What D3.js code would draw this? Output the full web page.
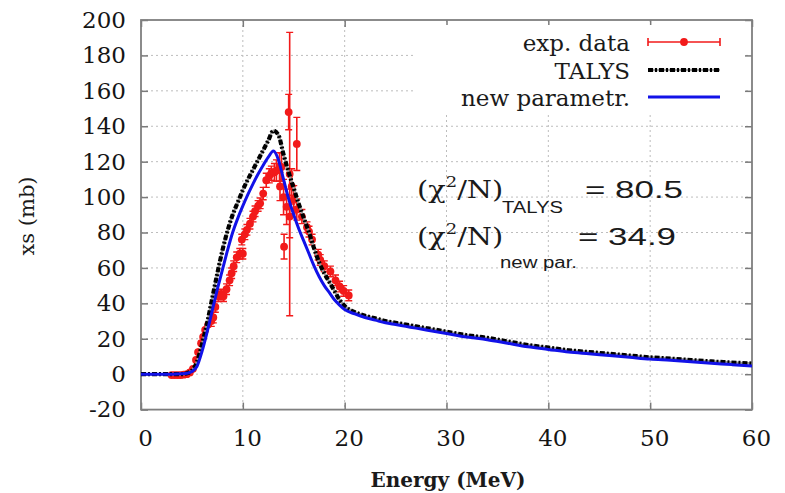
<!DOCTYPE html>
<html>
<head>
<meta charset="utf-8">
<script src="https://cdn.jsdelivr.net/npm/d3@7"></script>
<style>
  html, body { margin: 0; padding: 0; background: #fff; }
  svg { display: block; }
</style>
</head>
<body>
<svg id="chart" width="785" height="493"></svg>
<script>
// Energy axis (MeV) and cross-section axis (mb)
const xTicks = [0, 10, 20, 30, 40, 50, 60];
const yTicks = [-20, 0, 20, 40, 60, 80, 100, 120, 140, 160, 180, 200];

// Measured cross sections: energy, value, uncertainty
const expE   = [3.0, 3.3, 3.6, 3.9, 4.2, 4.5, 4.8, 5.1, 5.4, 5.6, 5.9, 6.1, 6.3, 6.6, 6.9, 7.1, 7.3, 7.6, 7.9, 8.1,
                8.4, 8.7, 8.9, 9.1, 9.4, 9.7, 10.0, 9.9, 10.2, 10.4, 10.7, 11.0, 11.2, 11.5, 11.7, 12.0, 12.3, 12.6, 12.8, 13.1,
                13.3, 13.6, 13.8, 13.65, 14.0, 14.05, 14.3, 14.5, 14.6, 14.6, 14.8, 15.0, 15.3, 15.3, 15.8, 16.3, 16.5, 16.8, 17.4, 17.6,
                18.0, 18.6, 19.1, 19.5, 19.9, 20.4];
const expV   = [-0.5, -0.5, -0.5, -0.5, -0.3, 0, 1, 3, 8, 12.5, 17.5, 21, 25, 28, 30, 32, 38, 44, 45, 44,
                48, 53, 57, 61, 66, 68, 68, 76, 79, 81.5, 85, 89, 92, 95, 96.5, 102, 109.5, 112, 113.5, 114,
                115, 117, 117, 106, 100, 72, 94.5, 148, 113, 89, 106, 98.5, 130, 93, 89, 83, 80.5, 76, 67.5, 64.5,
                61, 58, 53, 49.5, 47, 44.5];
const expErr = [0.5, 0.5, 0.5, 0.5, 0.5, 0.5, 0.8, 1, 1.5, 2, 2, 2, 2.5, 2.5, 3, 3, 3, 3, 3, 3,
                3, 3, 3, 3, 3, 3, 3, 3, 3, 3, 3, 3, 3, 3, 3, 3.5, 4, 4, 4, 5,
                6, 8, 8, 8, 10, 7, 10, 10, 80, 12, 10, 8, 15, 6, 4, 3, 3, 3, 3, 3,
                3, 3, 3, 3, 3, 3];

// TALYS calculation
const talysE = [0, 1, 2, 3, 4, 4.5, 5, 5.5, 6, 6.5, 7, 7.5, 8, 8.5, 9, 9.5, 10, 10.5, 11, 11.5,
                12, 12.5, 13, 13.5, 14, 14.5, 15, 15.5, 16, 16.5, 17, 17.5, 18, 18.5, 19, 19.5, 20, 21, 22, 23,
                24, 25, 26, 27, 28, 30, 32, 34, 36, 38, 40, 42, 44, 46, 48, 50, 52, 54, 56, 58, 60];
const talysV = [0, 0, 0, 0, 0, 0.5, 2, 7, 17, 29, 43, 57, 70, 81, 90, 97, 104, 110, 115.5, 121,
                126.5, 132, 137.5, 135, 124, 114, 105, 96, 88, 80, 71, 63, 57, 52, 47, 42, 38.5, 35, 33, 31.5,
                30, 29, 28, 27, 26, 24, 22, 20.5, 18.5, 16.5, 15, 13.5, 12.5, 11.5, 10.5, 9.5, 8.8, 8, 7.2, 6.6, 6];

// New parametrization
const newE = [0, 1, 2, 3, 4, 4.5, 5, 5.5, 6, 6.5, 7, 7.5, 8, 8.5, 9, 9.5, 10, 10.5, 11, 11.5,
              12, 12.5, 13, 13.5, 14, 14.5, 15, 15.5, 16, 16.5, 17, 17.5, 18, 18.5, 19, 19.5, 20, 21, 22, 23,
              24, 25, 26, 27, 28, 30, 32, 34, 36, 38, 40, 42, 44, 46, 48, 50, 52, 54, 56, 58, 60];
const newV = [0, 0, 0, 0, 0.2, 0.5, 1.5, 4.5, 13, 24, 36, 48, 59, 70, 80, 88, 95, 101.5, 107.5, 113,
              118, 122.5, 126, 121, 110, 99, 90, 82, 75, 68, 61, 55, 50, 46, 42, 39, 36.5, 34, 32, 30.5,
              29, 28, 27, 26, 25, 23, 21, 19.5, 17.5, 15.5, 14, 12.5, 11.5, 10.5, 9.5, 8.5, 7.8, 7, 6.2, 5.4, 4.6];

const legendLabels = ["exp. data", "TALYS", "new parametr."];
const chiValues = ["80.5", "34.9"];
const chiSubs = ["TALYS", "new par."];

const svg = d3.select("#chart");
const pLeft = 141, pRight = 752, pTop = 20, pBottom = 409.6;
const x = d3.scaleLinear().domain([0, 60]).range([pLeft, pRight]);
const y = d3.scaleLinear().domain([-20, 200]).range([pBottom, pTop]);

const serif = "'DejaVu Serif', serif";
const sans = "'Liberation Sans', Arial, sans-serif";
const red = "#f21a1a", blue = "#1212e8";

// grid
const grid = svg.append("g").attr("stroke", "#bdbdbd").attr("stroke-width", 1).attr("stroke-dasharray", "2,3");
grid.selectAll("line.h").data(yTicks.filter(v => v > -20 && v < 200)).join("line").attr("class", "h")
  .attr("x1", pLeft).attr("x2", pRight).attr("y1", d => y(d)).attr("y2", d => y(d));
grid.selectAll("line.v").data(xTicks.filter(v => v > 0 && v < 60)).join("line").attr("class", "v")
  .attr("x1", d => x(d)).attr("x2", d => x(d)).attr("y1", pTop).attr("y2", pBottom);

// axes with inward ticks
const tickColor = "#7a7a7a";
const plain = d => String(d);
function styleAxis(g) {
  g.select(".domain").remove();
  g.selectAll(".tick line").attr("stroke", tickColor).attr("stroke-width", 1.5);
  g.selectAll(".tick text").attr("fill", "#151515").attr("font-family", serif).attr("font-size", 23);
}
svg.append("g").attr("transform", `translate(${pLeft},0)`)
  .call(d3.axisLeft(y).tickValues(yTicks).tickFormat(plain).tickSize(-7).tickPadding(15))
  .call(styleAxis);
svg.append("g").attr("transform", `translate(${pRight},0)`)
  .call(d3.axisRight(y).tickValues(yTicks).tickSize(-7).tickFormat(""))
  .call(styleAxis);
svg.append("g").attr("transform", `translate(0,${pBottom})`)
  .call(d3.axisBottom(x).tickValues(xTicks).tickFormat(plain).tickSize(-7).tickPadding(20))
  .call(styleAxis)
  .call(g => g.selectAll(".tick text").attr("dx", 4));
svg.append("g").attr("transform", `translate(0,${pTop})`)
  .call(d3.axisTop(x).tickValues(xTicks).tickSize(-7).tickFormat(""))
  .call(styleAxis);

// frame
svg.append("rect").attr("x", pLeft).attr("y", pTop).attr("width", pRight - pLeft).attr("height", pBottom - pTop)
  .attr("fill", "none").attr("stroke", "#7f7f7f").attr("stroke-width", 1.8);

// axis titles
svg.append("text").attr("x", 448).attr("y", 487).attr("text-anchor", "middle")
  .attr("font-family", serif).attr("font-weight", "bold").attr("font-size", 20).attr("fill", "#1a1a1a")
  .text("Energy (MeV)");
svg.append("text").attr("transform", "translate(34,216) rotate(-90)").attr("text-anchor", "middle")
  .attr("font-family", serif).attr("font-size", 21).attr("fill", "#1a1a1a")
  .text("xs (mb)");

// plot area clip
svg.append("clipPath").attr("id", "plot").append("rect")
  .attr("x", pLeft).attr("y", pTop).attr("width", pRight - pLeft).attr("height", pBottom - pTop);
const plot = svg.append("g").attr("clip-path", "url(#plot)");

// experimental points
const exp = expE.map((e, i) => ({ e, v: expV[i], err: expErr[i] }));
const pts = plot.append("g");
pts.selectAll("line.bar").data(exp).join("line").attr("class", "bar")
  .attr("x1", d => x(d.e)).attr("x2", d => x(d.e))
  .attr("y1", d => y(d.v - d.err)).attr("y2", d => y(d.v + d.err))
  .attr("stroke", red).attr("stroke-width", 1.6);
pts.selectAll("path.cap").data(exp.filter(d => d.err >= 3)).join("path").attr("class", "cap")
  .attr("d", d => `M${x(d.e) - 3.5},${y(d.v - d.err)}h7M${x(d.e) - 3.5},${y(d.v + d.err)}h7`)
  .attr("stroke", red).attr("stroke-width", 1.4);
pts.selectAll("circle").data(exp).join("circle")
  .attr("cx", d => x(d.e)).attr("cy", d => y(d.v)).attr("r", 3.9).attr("fill", red);

// TALYS curve
const line = d3.line().x(d => x(d[0])).y(d => y(d[1])).curve(d3.curveMonotoneX);
const talys = talysE.map((e, i) => [e, talysV[i]]);
plot.append("path").datum(talys).attr("d", line).attr("fill", "none")
  .attr("stroke", "#9a9a9a").attr("stroke-width", 2.5);
plot.append("path").datum(talys).attr("d", line).attr("fill", "none")
  .attr("stroke", "#000").attr("stroke-width", 4.2).attr("stroke-dasharray", "5,2,2,2");

// new parametrization curve
const newp = newE.map((e, i) => [e, newV[i]]);
plot.append("path").datum(newp).attr("d", line).attr("fill", "none")
  .attr("stroke", blue).attr("stroke-width", 3).attr("stroke-linejoin", "round");

// legend (opaque key box)
svg.append("rect").attr("x", 413).attr("y", 25).attr("width", 330).attr("height", 88).attr("fill", "#fff");
const legY = [42, 70, 97];
svg.selectAll("text.leg").data(legendLabels).join("text").attr("class", "leg")
  .attr("x", 630).attr("y", (d, i) => legY[i] + 8.5).attr("text-anchor", "end")
  .attr("font-family", serif).attr("font-size", 23).attr("fill", "#1a1a1a").text(d => d);
const lx1 = 648, lx2 = 720;
svg.append("line").attr("x1", lx1).attr("x2", lx2).attr("y1", legY[0]).attr("y2", legY[0])
  .attr("stroke", red).attr("stroke-width", 1.6);
svg.append("path").attr("d", `M${lx1},${legY[0] - 4}v8M${lx2},${legY[0] - 4}v8`)
  .attr("stroke", red).attr("stroke-width", 1.6);
svg.append("circle").attr("cx", (lx1 + lx2) / 2).attr("cy", legY[0]).attr("r", 3.9).attr("fill", red);
svg.append("line").attr("x1", lx1).attr("x2", lx2).attr("y1", legY[1]).attr("y2", legY[1])
  .attr("stroke", "#9a9a9a").attr("stroke-width", 2.5);
svg.append("line").attr("x1", lx1).attr("x2", lx2).attr("y1", legY[1]).attr("y2", legY[1])
  .attr("stroke", "#000").attr("stroke-width", 4.2).attr("stroke-dasharray", "5,2,2,2");
svg.append("line").attr("x1", lx1).attr("x2", lx2).attr("y1", legY[2]).attr("y2", legY[2])
  .attr("stroke", blue).attr("stroke-width", 3);

// reduced chi-square annotations
const chiBase = [198, 245];
const subX = [502, 500], subY = [213, 268], subW = [61, 77];
const eqX = [585, 578];
chiBase.forEach((b, i) => {
  const g = svg.append("g").attr("transform", `translate(417,${b}) scale(1.2,1)`);
  const t = g.append("text").attr("font-family", serif).attr("font-size", 24).attr("fill", "#1a1a1a");
  t.append("tspan").text("(χ");
  t.append("tspan").attr("dy", -11).attr("font-size", 15).text("2");
  t.append("tspan").attr("dy", 11).text("/N)");
  svg.append("text").attr("x", subX[i]).attr("y", subY[i])
    .attr("font-family", sans).attr("font-size", 16).attr("fill", "#1a1a1a")
    .attr("textLength", subW[i]).attr("lengthAdjust", "spacingAndGlyphs").text(chiSubs[i]);
  svg.append("text").attr("x", eqX[i]).attr("y", b)
    .attr("font-family", sans).attr("font-size", 23).attr("fill", "#1a1a1a")
    .attr("textLength", 98).attr("lengthAdjust", "spacingAndGlyphs").text("= " + chiValues[i]);
});
</script>
</body>
</html>
